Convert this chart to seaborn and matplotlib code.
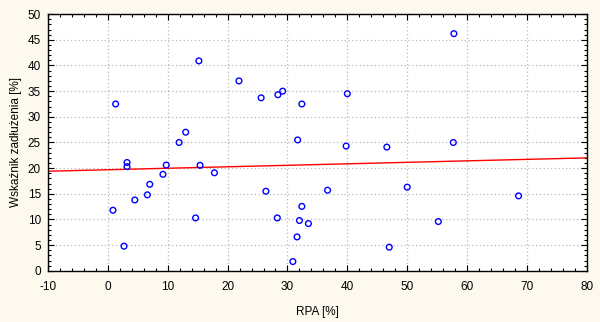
import matplotlib
matplotlib.use("Agg")
import matplotlib.pyplot as plt
import seaborn as sns
import pandas as pd
from matplotlib.ticker import MultipleLocator

# Data
rpa = [1.3, 15.2, 21.9, 25.6, 28.4, 29.2, 32.4, 13.0, 11.9, 31.7,
       57.8, 40.0, 39.8, 46.6, 57.7, 3.2, 3.2, 9.75, 15.4, 9.2,
       17.8, 7.0, 6.6, 4.5, 0.85, 2.7, 14.65, 26.4, 28.3, 32.4,
       32.0, 33.5, 31.6, 30.9, 36.7, 50.0, 68.6, 55.2, 47.0]
debt = [32.5, 40.9, 37.0, 33.7, 34.3, 35.0, 32.5, 27.0, 25.0, 25.5,
        46.2, 34.5, 24.3, 24.1, 25.0, 21.1, 20.3, 20.6, 20.55, 18.8,
        19.1, 16.85, 14.8, 13.8, 11.8, 4.8, 10.3, 15.5, 10.3, 12.55,
        9.8, 9.2, 6.6, 1.8, 15.7, 16.3, 14.6, 9.6, 4.6]
fit_x = [-10, 80]
fit_y = [19.4, 22.0]

x_label = "RPA [%]"
y_label = "Wskaźnik zadłużenia [%]"

sns.set_theme(style="white")
plt.rcParams['font.family'] = ['Liberation Sans', 'DejaVu Sans']
plt.rcParams['axes.unicode_minus'] = False

bg = "#FEF9EE"
fig = plt.figure(figsize=(6.0, 3.22), dpi=100, facecolor=bg)
ax = fig.add_axes([0.08, 0.159, 0.898, 0.797])
ax.set_facecolor("white")

df = pd.DataFrame({"x": rpa, "y": debt})
fit = pd.DataFrame({"x": fit_x, "y": fit_y})

sns.lineplot(data=fit, x="x", y="y", ax=ax, color="#FF0000", linewidth=1.0, zorder=2)
sns.scatterplot(data=df, x="x", y="y", ax=ax, marker="o", s=17,
                facecolor="none", edgecolor="#0000FF", linewidth=1.0, zorder=3)

ax.set_xlim(-10, 80)
ax.set_ylim(0, 50)
ax.xaxis.set_major_locator(MultipleLocator(10))
ax.xaxis.set_minor_locator(MultipleLocator(2))
ax.yaxis.set_major_locator(MultipleLocator(5))
ax.yaxis.set_minor_locator(MultipleLocator(1))

ax.grid(True, which="major", color="#B8B8B8", linestyle=(0, (1, 2)), linewidth=0.9)
ax.set_axisbelow(True)

ax.tick_params(which="both", direction="in", top=True, right=True,
               bottom=True, left=True, color="black", labelsize=8.5,
               labelcolor="black", width=0.8)
ax.tick_params(which="major", length=4)
ax.tick_params(which="minor", length=2)
ax.tick_params(axis="x", which="major", pad=7)
ax.tick_params(axis="y", which="major", pad=5)

for s in ax.spines.values():
    s.set_color("black")
    s.set_linewidth(1.0)

ax.set_xlabel(x_label, fontsize=8.5, color="black", labelpad=10)
ax.set_ylabel(y_label, fontsize=8.5, color="black", labelpad=4)

fig.savefig("out.png", dpi=100, facecolor=bg)
